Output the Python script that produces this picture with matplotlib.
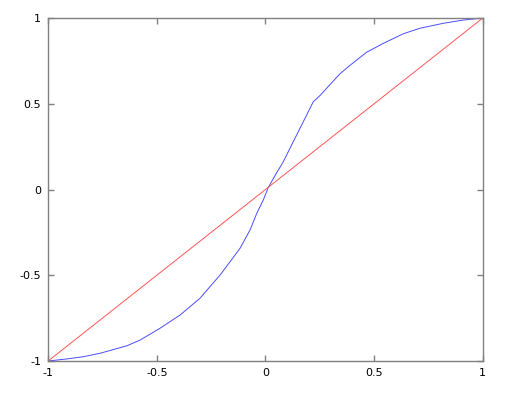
import matplotlib
matplotlib.use("Agg")
import matplotlib.pyplot as plt

# blue curve
curve_x = [-1.0, -0.914, -0.838, -0.761, -0.637, -0.577, -0.485, -0.393, -0.301,
           -0.255, -0.209, -0.163, -0.117, -0.071, -0.040, -0.010, 0.012, 0.041,
           0.082, 0.128, 0.174, 0.220, 0.251, 0.297, 0.343, 0.389, 0.465, 0.542,
           0.634, 0.710, 0.818, 0.910, 1.0]
curve_y = [-1.0, -0.988, -0.975, -0.955, -0.911, -0.878, -0.809, -0.732, -0.634,
           -0.566, -0.499, -0.421, -0.343, -0.236, -0.139, -0.061, 0.009, 0.075,
           0.162, 0.279, 0.395, 0.512, 0.548, 0.612, 0.675, 0.724, 0.800, 0.852,
           0.908, 0.940, 0.969, 0.988, 1.0]

# red diagonal
line_x = [-1, 1]
line_y = [-1, 1]

ticks = [-1, -0.5, 0, 0.5, 1]
tick_labels = ["-1", "-0.5", "0", "0.5", "1"]

fig = plt.figure(figsize=(5.12, 4.0), dpi=100)
ax = fig.add_axes([0.094, 0.0975, 0.849, 0.8575])

ax.plot(curve_x, curve_y, color="#4d4dff", lw=0.7)
ax.plot(line_x, line_y, color="#ff5555", lw=0.7)

ax.set_xlim(-1, 1)
ax.set_ylim(-1, 1)
ax.set_xticks(ticks)
ax.set_xticklabels(tick_labels)
ax.set_yticks(ticks)
ax.set_yticklabels(tick_labels)

for s in ax.spines.values():
    s.set_color("#808080")
    s.set_linewidth(1.0)
ax.tick_params(direction="in", length=4, width=1, color="#808080",
               labelsize=8, top=True, right=True, pad=5)

fig.savefig("out.png", dpi=100)
